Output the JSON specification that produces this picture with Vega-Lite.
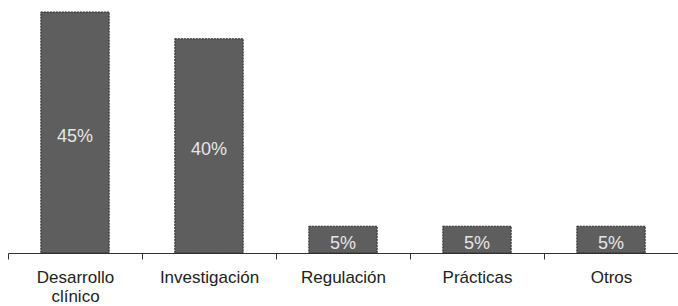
{
  "$schema": "https://vega.github.io/schema/vega-lite/v6.json",
  "width": 670,
  "height": 241,
  "autosize": {"type": "none"},
  "padding": {"left": 8, "top": 12, "right": 0, "bottom": 53},
  "background": "white",
  "config": {"view": {"stroke": null}, "font": "Liberation Sans"},
  "data": {
    "values": [
      {"categoria": "Desarrollo clínico", "valor": 45},
      {"categoria": "Investigación", "valor": 40},
      {"categoria": "Regulación", "valor": 5},
      {"categoria": "Prácticas", "valor": 5},
      {"categoria": "Otros", "valor": 5}
    ]
  },
  "encoding": {
    "x": {
      "field": "categoria",
      "type": "nominal",
      "sort": null,
      "scale": {"paddingInner": 0, "paddingOuter": 0},
      "axis": {
        "title": null,
        "labelAngle": 0,
        "tickBand": "extent",
        "domainColor": "#333333",
        "domainWidth": 1,
        "tickColor": "#333333",
        "tickSize": 6,
        "labelPadding": 10,
        "labelFont": "Liberation Sans",
        "labelFontSize": 17,
        "labelColor": "#222222",
        "labelLineHeight": 19,
        "labelExpr": "split(datum.label, ' ')"
      }
    }
  },
  "layer": [
    {
      "mark": {"type": "bar", "width": {"band": 0.51}, "color": "#5e5e5e", "stroke": "#2a2a2a", "strokeWidth": 1, "strokeDash": [2, 1]},
      "encoding": {
        "y": {"field": "valor", "type": "quantitative", "scale": {"domain": [0, 45], "nice": false}, "axis": null}
      }
    },
    {
      "transform": [
        {"calculate": "datum.valor / 2", "as": "medio"},
        {"calculate": "datum.valor + '%'", "as": "etiqueta"}
      ],
      "mark": {"type": "text", "color": "#e6e6e6", "fontSize": 18, "baseline": "middle", "align": "center", "dy": 4, "font": "Liberation Sans"},
      "encoding": {
        "y": {"field": "medio", "type": "quantitative", "scale": {"domain": [0, 45], "nice": false}, "axis": null},
        "text": {"field": "etiqueta", "type": "nominal"},
        "detail": {"field": "categoria"}
      }
    }
  ]
}
